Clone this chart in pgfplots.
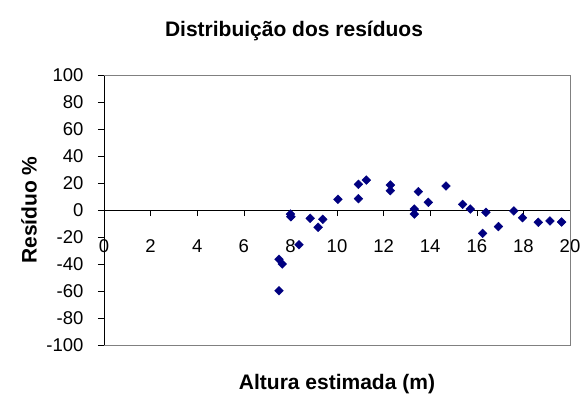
\documentclass[border=0pt]{standalone}
\usepackage{pgfplots}
\pgfplotsset{compat=1.18}
\usepackage{fontspec}
\setmainfont{Liberation Sans}
\definecolor{navymark}{RGB}{0,0,128}
\begin{document}
\begin{tikzpicture}
\begin{axis}[
  scale only axis,
  width=466pt, height=270pt,
  xmin=0, xmax=20, ymin=-100, ymax=100,
  axis x line=middle, axis y line=left,
  axis line style={black, line width=0.6pt, -},
  hide obscured x ticks=false,
  xtick={0,2,...,20}, ytick={-100,-80,...,100},
  tick align=outside,
  major tick length=6pt,
  tick style={black, line width=0.6pt},
  ticklabel style={font=\fontsize{18.5}{20}\selectfont},
  /pgf/number format/assume math mode=true,
  xticklabel style={anchor=north, yshift=-20pt},
  yticklabel style={anchor=east, xshift=-11pt},
  xlabel={\textbf{Altura estimada (m)}},
  ylabel={\textbf{Resíduo \%}},
  label style={font=\fontsize{21}{24}\selectfont},
  xlabel style={at={(rel axis cs:0.5,0)}, anchor=center, yshift=-39pt},
  ylabel style={at={(axis description cs:-0.161,0.5)}, anchor=center},
  clip=false,
]
\draw[gray, line width=0.6pt] (rel axis cs:0,1) -- (rel axis cs:1,1) -- (rel axis cs:1,0) -- (rel axis cs:0,0);
\coordinate (sw) at (rel axis cs:0,0);
\coordinate (ne) at (rel axis cs:1,1);
\addplot[only marks, mark=square*, mark size=3.1pt, mark options={rotate=45}, color=navymark] coordinates {
(7.51,-36.5) (7.65,-40) (7.51,-59.8) (8.0,-3) (8.02,-5) (8.37,-25.7)
(8.85,-6.2) (9.19,-12.8) (9.39,-6.9) (10.04,7.9) (10.92,19) (10.92,8.4)
(11.26,22.2) (12.29,18.5) (12.29,14.3) (13.32,0.7) (13.32,-3) (13.49,13.6)
(13.92,5.7) (14.68,17.8) (15.39,4.2) (15.72,0.7) (16.39,-1.7) (16.25,-17.3)
(16.93,-12.3) (17.59,-0.7) (17.96,-5.7) (18.64,-9.1) (19.14,-8.1) (19.64,-8.9)
};
\end{axis}
\node[font=\fontsize{21}{24}\selectfont\bfseries] at ([shift={(190pt,314pt)}]sw) {Distribuição dos resíduos};
\pgfresetboundingbox
\path[use as bounding box] ([shift={(-104pt,-51pt)}]sw) rectangle ([shift={(15pt,75pt)}]ne);
\end{tikzpicture}
\end{document}
